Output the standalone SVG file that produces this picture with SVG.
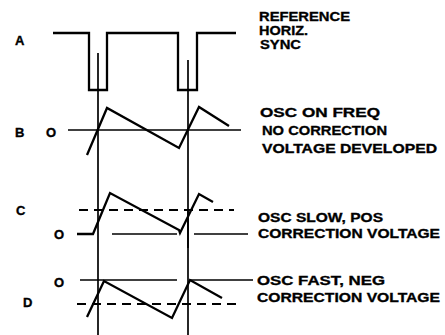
<svg xmlns="http://www.w3.org/2000/svg" width="445" height="335" viewBox="0 0 445 335">
<style>
.w{fill:none;stroke:#000;stroke-width:2.3;stroke-linejoin:miter;stroke-linecap:butt}
.ref{fill:none;stroke:#000;stroke-width:1.7}
.dash{fill:none;stroke:#000;stroke-width:1.9;stroke-dasharray:9 6}
.t{font-family:"Liberation Sans",Arial,sans-serif;font-weight:bold;font-size:13.5px;fill:#000;stroke:#000;stroke-width:0.35}
.l{font-family:"Liberation Sans",Arial,sans-serif;font-weight:bold;font-size:13px;fill:#000;stroke:#000;stroke-width:0.35}
</style>
<rect width="445" height="335" fill="#fff"/>
<g id="markers">
<line class="ref" x1="98" y1="53" x2="98" y2="335"/>
<line class="ref" x1="188" y1="60" x2="188" y2="335"/>
<line class="ref" x1="188" y1="210" x2="188" y2="248" stroke-width="2.6"/>
</g>
<g id="traceA">
<text class="l" x="15" y="45">A</text>
<path class="w" d="M53,33 H89 V90 H107 V33 H178 V90 H197 V33 H236"/>
<text class="t" x="259" y="21" textLength="91" lengthAdjust="spacingAndGlyphs">REFERENCE</text>
<text class="t" x="259" y="35" textLength="49" lengthAdjust="spacingAndGlyphs">HORIZ.</text>
<text class="t" x="260" y="49" textLength="41" lengthAdjust="spacingAndGlyphs">SYNC</text>
</g>
<g id="traceB">
<text class="l" x="15" y="137">B</text>
<text class="l" x="46" y="137">O</text>
<line class="ref" x1="68" y1="130" x2="241" y2="130"/>
<path class="w" d="M87,155 L107,108 L179,148 L199,107 L229,126"/>
<text class="t" x="260" y="117" textLength="120" lengthAdjust="spacingAndGlyphs">OSC ON FREQ</text>
<text class="t" x="262" y="135" textLength="125" lengthAdjust="spacingAndGlyphs">NO CORRECTION</text>
<text class="t" x="262" y="153" textLength="175" lengthAdjust="spacingAndGlyphs">VOLTAGE DEVELOPED</text>
</g>
<g id="traceC">
<text class="l" x="16" y="215">C</text>
<text class="l" x="54" y="239">O</text>
<line class="dash" x1="79" y1="210" x2="234" y2="210"/>
<line class="ref" x1="112" y1="234" x2="177" y2="234"/>
<line class="ref" x1="194" y1="234" x2="248" y2="234"/>
<path class="w" d="M77,234 H93 L110,193 L179,230 L180,233 L199,194 L213,202"/>
<text class="t" x="258" y="222" textLength="125" lengthAdjust="spacingAndGlyphs">OSC SLOW, POS</text>
<text class="t" x="258" y="238" textLength="182" lengthAdjust="spacingAndGlyphs">CORRECTION VOLTAGE</text>
</g>
<g id="traceD">
<text class="l" x="54" y="287">O</text>
<text class="l" x="23" y="307">D</text>
<line class="ref" x1="80" y1="280" x2="177" y2="280"/>
<line class="ref" x1="190" y1="280" x2="253" y2="280"/>
<line class="dash" x1="77" y1="304" x2="240" y2="304"/>
<path class="w" d="M87,317 L104,281 L172,318 L190,280 L222,298"/>
<text class="t" x="257" y="285" textLength="128" lengthAdjust="spacingAndGlyphs">OSC FAST, NEG</text>
<text class="t" x="257" y="302" textLength="183" lengthAdjust="spacingAndGlyphs">CORRECTION VOLTAGE</text>
</g>
</svg>
